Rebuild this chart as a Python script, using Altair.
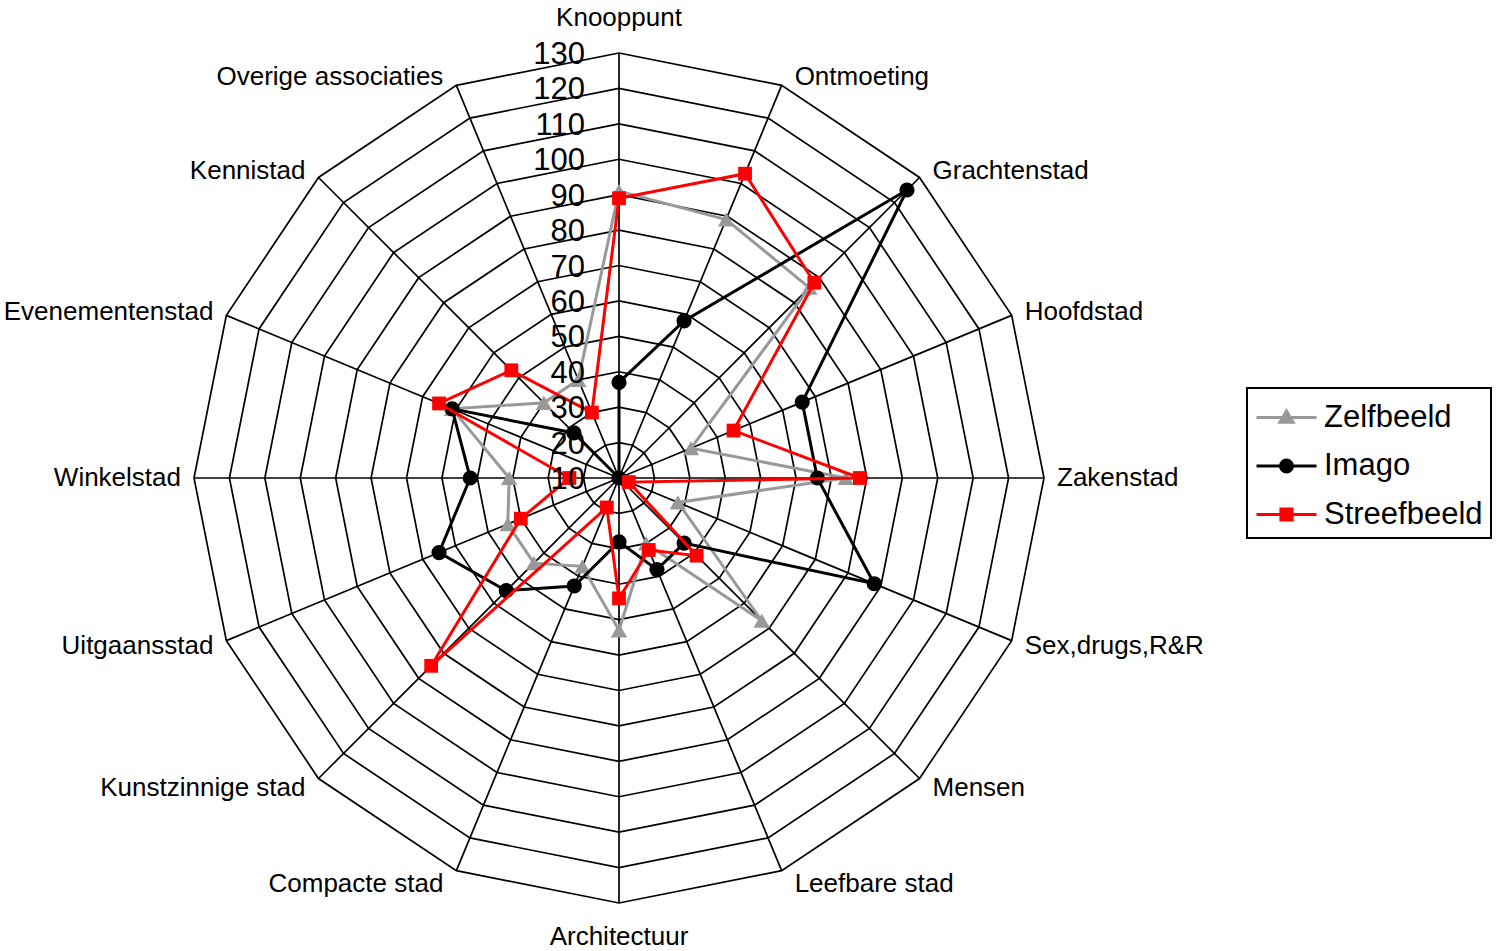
import altair as alt
import pandas as pd

# ---------------- data ----------------
categories = [
    "Knooppunt", "Ontmoeting", "Grachtenstad", "Hoofdstad", "Zakenstad",
    "Sex,drugs,R&R", "Mensen", "Leefbare stad", "Architectuur", "Compacte stad",
    "Kunstzinnige stad", "Uitgaansstad", "Winkelstad", "Evenementenstad",
    "Kennistad", "Overige associaties",
]
zelfbeeld = [91, 89, 86, 32, 74, 28, 67, 30, 53, 37, 44, 44, 41, 61, 40, 40]
imago = [37, 58, 125, 66, 66, 88, 36, 38, 28, 43, 55, 65, 52, 61, 28, 10]
streefbeeld = [89, 103, 88, 45, 78, 13, 41, 32, 44, 19, 85, 40, 24, 65, 53, 30]

series_names = ["Zelfbeeld", "Imago", "Streefbeeld"]
series_values = [zelfbeeld, imago, streefbeeld]
series_colors = ["#999999", "#000000", "#ff0000"]
series_shapes = ["triangle-up", "circle", "square"]
series_sizes = [270, 230, 190]
tick_values = [10, 20, 30, 40, 50, 60, 70, 80, 90, 100, 110, 120, 130]

AXIS_MIN = tick_values[0]
AXIS_MAX = tick_values[-1]
N = len(categories)

# legend symbols: line segment + marker (custom SVG paths)
legend_paths = [
    "M-1.5,0H1.5M-0.33,0.24L0,-0.33L0.33,0.24Z",
    "M-0.3,0A0.3,0.3 0 1,0 0.3,0A0.3,0.3 0 1,0 -0.3,0ZM-1.5,0H1.5",
    "M-1.5,0H1.5M-0.28,-0.28H0.28V0.28H-0.28Z",
]

# ---------------- tables ----------------
rows = []
for name, vals in zip(series_names, series_values):
    for i in range(N + 1):
        rows.append({"series": name, "idx": i, "category": categories[i % N],
                     "value": vals[i % N]})
df = pd.DataFrame(rows)

ring_df = pd.DataFrame([{"value": t, "idx": i} for t in tick_values[1:] for i in range(N + 1)])
spoke_df = pd.DataFrame([{"idx": i, "value": AXIS_MAX} for i in range(N)])
label_df = pd.DataFrame([{"idx": i, "category": c, "value": AXIS_MAX} for i, c in enumerate(categories)])
tick_df = pd.DataFrame({"value": tick_values, "label": [str(t) for t in tick_values]})

polar = dict(
    r=f"max(datum.value - {AXIS_MIN}, 0)",
    a=f"datum.idx * 2 * PI / {N}",
    px="datum.r * sin(datum.a)",
    py="datum.r * cos(datum.a)",
)

# scale: 120 value units -> 425 px, centre at (619, 478) of a 1496x951 view
W, H = 1496, 951
K = 425 / (AXIS_MAX - AXIS_MIN)
xs = alt.Scale(domain=[-619 / K, (W - 619) / K], nice=False, zero=False)
ys = alt.Scale(domain=[-(H - 478) / K, 478 / K], nice=False, zero=False)
X = alt.X("px:Q", scale=xs, axis=None)
Y = alt.Y("py:Q", scale=ys, axis=None)

FONT = "Liberation Sans"
LFS = 26

rings = alt.Chart(ring_df).transform_calculate(**polar).mark_line(
    color="black", strokeWidth=1.7
).encode(x=X, y=Y, detail="value:N", order="idx:Q")

spokes = alt.Chart(spoke_df).transform_calculate(**polar, zx="0", zy="0").mark_rule(
    color="black", strokeWidth=1.7
).encode(x=alt.X("zx:Q", scale=xs, axis=None), y=alt.Y("zy:Q", scale=ys, axis=None),
         x2="px:Q", y2="py:Q")

label_polar = dict(
    r=f"datum.value - {AXIS_MIN}",
    a=f"datum.idx * 2 * PI / {N}",
    s="abs(sin(datum.a)) < 0.01 ? 0 : (sin(datum.a) > 0 ? 1 : -1)",
    px=f"datum.r * sin(datum.a) + 13 / {K} * datum.s",
    py=f"datum.r * cos(datum.a) + (cos(datum.a) > 0 ? 9 : 14) / {K} * cos(datum.a)",
)
lab_base = alt.Chart(label_df).transform_calculate(**label_polar)
lab_right = lab_base.transform_filter("datum.idx > 0 && datum.idx < 8").mark_text(
    font=FONT, fontSize=LFS, align="left", baseline="middle", color="black"
).encode(x=X, y=Y, text="category:N")
lab_left = lab_base.transform_filter("datum.idx > 8").mark_text(
    font=FONT, fontSize=LFS, align="right", baseline="middle", color="black"
).encode(x=X, y=Y, text="category:N")
lab_top = lab_base.transform_filter("datum.idx == 0").mark_text(
    font=FONT, fontSize=LFS, align="center", baseline="middle", color="black", dy=-26
).encode(x=X, y=Y, text="category:N")
lab_bottom = lab_base.transform_filter("datum.idx == 8").mark_text(
    font=FONT, fontSize=LFS, align="center", baseline="middle", color="black", dy=20
).encode(x=X, y=Y, text="category:N")

ticks = alt.Chart(tick_df).transform_calculate(
    px="0", py=f"datum.value - {AXIS_MIN}"
).mark_text(font=FONT, fontSize=31, align="right", baseline="middle", color="black",
            dx=-34, dy=2).encode(x=X, y=Y, text="label:N")

base = alt.Chart(df).transform_calculate(**polar)
series_layers = []
for name, col, shp, sz in zip(series_names, series_colors, series_shapes, series_sizes):
    sub = base.transform_filter(alt.datum.series == name)
    series_layers.append(sub.mark_line(color=col, strokeWidth=3).encode(x=X, y=Y, order="idx:Q"))
    series_layers.append(sub.transform_filter(f"datum.idx < {N}").mark_point(
        shape=shp, filled=True, size=sz, color=col, opacity=1).encode(x=X, y=Y))

leg = alt.Legend(
    title=None, orient="none", legendX=1247, legendY=388, labelFont=FONT, labelFontSize=31,
    labelLimit=400, symbolSize=1600, symbolStrokeWidth=3, symbolOpacity=1, rowPadding=11.5,
    padding=8, symbolOffset=10, labelOffset=16, strokeColor="black",
)
legend_layer = base.transform_filter("false").mark_point(filled=True, opacity=1, strokeWidth=3).encode(
    x=X, y=Y,
    fill=alt.Fill("series:N", scale=alt.Scale(domain=series_names, range=series_colors), legend=leg),
    stroke=alt.Stroke("series:N", scale=alt.Scale(domain=series_names, range=series_colors), legend=leg),
    shape=alt.Shape("series:N", scale=alt.Scale(domain=series_names, range=legend_paths), legend=leg),
)

chart = alt.layer(
    rings, spokes, *series_layers, ticks, lab_right, lab_left, lab_top, lab_bottom, legend_layer
).properties(
    width=W, height=H, autosize=alt.AutoSizeParams(type="none"), padding=0, background="white"
).configure_view(stroke=None).configure_legend(strokeWidth=2)

chart.save("out.html", embed_options={"renderer": "svg", "actions": False})
